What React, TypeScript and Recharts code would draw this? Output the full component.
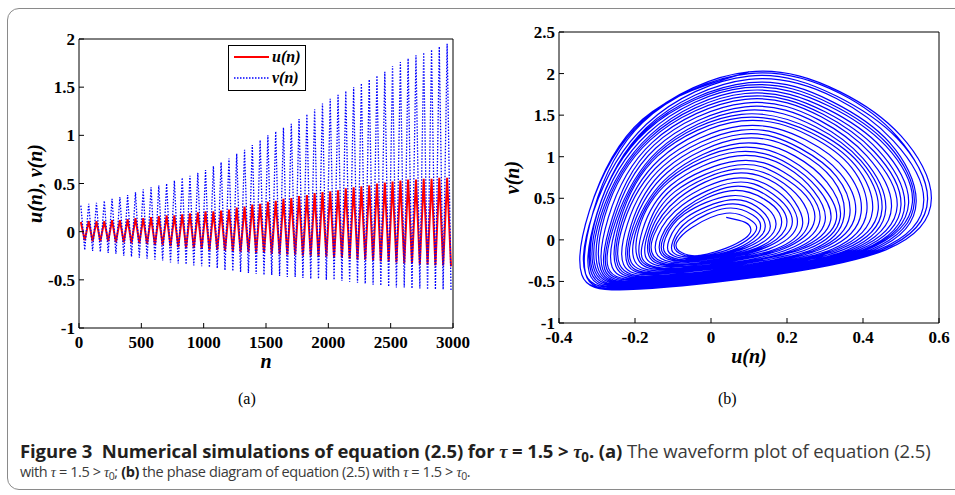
import React from "react";
import { LineChart, Line, XAxis, YAxis, Label, Legend } from "recharts";

// (a) waveform: one peak and one trough read per oscillation cycle
const cycleN = [
  15, 78, 140, 203, 265, 328, 390, 453, 515, 578, 640, 703, 765, 828, 890, 953,
  1015, 1078, 1140, 1203, 1265, 1328, 1390, 1453, 1515, 1578, 1640, 1703, 1765, 1828, 1890, 1953,
  2015, 2078, 2140, 2203, 2265, 2328, 2390, 2453, 2515, 2578, 2640, 2703, 2765, 2828, 2890, 2953,
];
const halfCycle = 31;
const uPeak = [
  0.1, 0.11, 0.11, 0.11, 0.12, 0.12, 0.13, 0.14, 0.14, 0.15, 0.16, 0.17, 0.17, 0.18, 0.19, 0.2,
  0.21, 0.21, 0.22, 0.23, 0.25, 0.26, 0.28, 0.29, 0.31, 0.32, 0.34, 0.35, 0.37, 0.38, 0.4, 0.41,
  0.42, 0.43, 0.45, 0.46, 0.47, 0.48, 0.5, 0.51, 0.52, 0.53, 0.54, 0.54, 0.55, 0.55, 0.56, 0.56,
];
const uTrough = [
  -0.09, -0.1, -0.1, -0.1, -0.11, -0.11, -0.12, -0.12, -0.13, -0.14, -0.14, -0.15, -0.16, -0.17, -0.17, -0.18,
  -0.19, -0.19, -0.2, -0.2, -0.21, -0.21, -0.22, -0.22, -0.23, -0.23, -0.24, -0.24, -0.25, -0.25, -0.26, -0.26,
  -0.27, -0.27, -0.28, -0.29, -0.29, -0.3, -0.31, -0.31, -0.32, -0.33, -0.33, -0.34, -0.34, -0.35, -0.35, -0.36,
];
const vPeak = [
  0.27, 0.29, 0.3, 0.32, 0.34, 0.36, 0.38, 0.41, 0.44, 0.46, 0.48, 0.5, 0.53, 0.56, 0.58, 0.61,
  0.64, 0.68, 0.72, 0.76, 0.81, 0.85, 0.9, 0.95, 1.0, 1.04, 1.08, 1.12, 1.17, 1.22, 1.27, 1.33,
  1.38, 1.42, 1.46, 1.5, 1.54, 1.58, 1.62, 1.66, 1.72, 1.76, 1.8, 1.83, 1.86, 1.89, 1.92, 1.95,
];
const vTrough = [
  -0.19, -0.2, -0.21, -0.22, -0.23, -0.25, -0.26, -0.27, -0.28, -0.29, -0.3, -0.32, -0.33, -0.34, -0.35, -0.36,
  -0.37, -0.38, -0.4, -0.41, -0.42, -0.43, -0.44, -0.45, -0.45, -0.46, -0.47, -0.47, -0.48, -0.49, -0.49, -0.5,
  -0.5, -0.51, -0.52, -0.53, -0.54, -0.55, -0.56, -0.57, -0.58, -0.58, -0.59, -0.59, -0.6, -0.6, -0.6, -0.61,
];
const waveTicksX = [0, 500, 1000, 1500, 2000, 2500, 3000];
const waveTicksY = [-1, -0.5, 0, 0.5, 1, 1.5, 2];

// (b) phase diagram: ten points per turn, turns listed from the hole outwards
const topU = [0.04, 0.04, 0.04, 0.045, 0.05, 0.05, 0.05, 0.055, 0.06, 0.06, 0.06, 0.065, 0.07, 0.07, 0.07, 0.07, 0.07, 0.075, 0.08, 0.08, 0.08, 0.08, 0.08,
  0.08, 0.08, 0.085, 0.09, 0.09, 0.09, 0.09, 0.09, 0.09, 0.09, 0.095, 0.1, 0.1, 0.1, 0.1, 0.1];
const topV = [0.27, 0.32, 0.38, 0.43, 0.48, 0.53, 0.59, 0.64, 0.69, 0.74, 0.8, 0.85, 0.9, 0.95, 1.01, 1.06, 1.11, 1.16, 1.22, 1.27, 1.32, 1.37, 1.43,
  1.47, 1.51, 1.555, 1.6, 1.645, 1.69, 1.725, 1.76, 1.795, 1.83, 1.86, 1.89, 1.93, 1.97, 2.0, 2.02];
const upperRightU = [0.09, 0.1, 0.11, 0.115, 0.12, 0.13, 0.14, 0.145, 0.15, 0.16, 0.17, 0.175, 0.18, 0.19, 0.2, 0.205, 0.21, 0.22, 0.23, 0.235, 0.24, 0.25, 0.26,
  0.265, 0.27, 0.275, 0.28, 0.285, 0.29, 0.295, 0.3, 0.305, 0.31, 0.315, 0.32, 0.33, 0.33, 0.34, 0.34];
const upperRightV = [0.21, 0.25, 0.3, 0.35, 0.4, 0.44, 0.49, 0.54, 0.59, 0.63, 0.68, 0.73, 0.78, 0.82, 0.87, 0.91, 0.96, 1.01, 1.06, 1.1, 1.15, 1.2, 1.25,
  1.285, 1.32, 1.36, 1.4, 1.44, 1.48, 1.51, 1.54, 1.575, 1.61, 1.635, 1.66, 1.7, 1.73, 1.76, 1.78];
const rightUpperU = [0.105, 0.12, 0.13, 0.14, 0.15, 0.165, 0.18, 0.19, 0.2, 0.21, 0.22, 0.235, 0.25, 0.26, 0.27, 0.28, 0.29, 0.305, 0.32, 0.33, 0.34, 0.355, 0.37,
  0.38, 0.39, 0.395, 0.4, 0.41, 0.42, 0.43, 0.44, 0.45, 0.46, 0.465, 0.47, 0.48, 0.49, 0.49, 0.5];
const rightUpperV = [0.12, 0.155, 0.19, 0.225, 0.26, 0.29, 0.32, 0.355, 0.39, 0.425, 0.46, 0.495, 0.53, 0.56, 0.59, 0.625, 0.66, 0.695, 0.73, 0.765, 0.8, 0.835, 0.87,
  0.895, 0.92, 0.95, 0.98, 1.01, 1.04, 1.06, 1.08, 1.105, 1.13, 1.15, 1.17, 1.19, 1.22, 1.24, 1.25];
const rightU = [0.09, 0.105, 0.12, 0.135, 0.15, 0.165, 0.18, 0.195, 0.21, 0.225, 0.24, 0.255, 0.27, 0.285, 0.3, 0.315, 0.33, 0.34, 0.35, 0.365, 0.38, 0.395, 0.41,
  0.425, 0.44, 0.45, 0.46, 0.475, 0.49, 0.5, 0.51, 0.52, 0.53, 0.535, 0.54, 0.56, 0.57, 0.57, 0.58];
const rightV = [0.02, 0.035, 0.05, 0.065, 0.08, 0.095, 0.11, 0.125, 0.14, 0.15, 0.16, 0.175, 0.19, 0.205, 0.22, 0.235, 0.25, 0.265, 0.28, 0.295, 0.31, 0.325, 0.34,
  0.35, 0.36, 0.37, 0.38, 0.395, 0.41, 0.42, 0.43, 0.44, 0.45, 0.455, 0.46, 0.48, 0.49, 0.49, 0.5];
const lowerRightU = [0.04, 0.055, 0.07, 0.08, 0.09, 0.105, 0.12, 0.13, 0.14, 0.155, 0.17, 0.18, 0.19, 0.205, 0.22, 0.23, 0.24, 0.255, 0.27, 0.28, 0.29, 0.305, 0.32,
  0.33, 0.34, 0.35, 0.36, 0.37, 0.38, 0.39, 0.4, 0.405, 0.41, 0.42, 0.43, 0.44, 0.45, 0.45, 0.46];
const lowerRightV = [-0.1, -0.1, -0.1, -0.1, -0.1, -0.1, -0.1, -0.1, -0.1, -0.105, -0.11, -0.11, -0.11, -0.11, -0.11, -0.11, -0.11, -0.11, -0.11, -0.11, -0.11, -0.11, -0.11,
  -0.11, -0.11, -0.115, -0.12, -0.12, -0.12, -0.12, -0.12, -0.12, -0.12, -0.12, -0.12, -0.12, -0.12, -0.12, -0.12];
const bottomRightU = [-0.01, -0.005, 0.0, 0.005, 0.01, 0.01, 0.01, 0.015, 0.02, 0.025, 0.03, 0.035, 0.04, 0.045, 0.05, 0.05, 0.05, 0.055, 0.06, 0.065, 0.07, 0.075, 0.08,
  0.08, 0.08, 0.085, 0.09, 0.095, 0.1, 0.1, 0.1, 0.105, 0.11, 0.11, 0.11, 0.11, 0.12, 0.12, 0.12];
const bottomRightV = [-0.17, -0.18, -0.19, -0.195, -0.2, -0.21, -0.22, -0.23, -0.24, -0.245, -0.25, -0.26, -0.27, -0.28, -0.29, -0.295, -0.3, -0.31, -0.32, -0.33, -0.34, -0.345, -0.35,
  -0.36, -0.37, -0.375, -0.38, -0.39, -0.4, -0.405, -0.41, -0.415, -0.42, -0.425, -0.43, -0.44, -0.44, -0.45, -0.45];
const bottomU = [-0.05, -0.055, -0.06, -0.065, -0.07, -0.075, -0.08, -0.085, -0.09, -0.095, -0.1, -0.105, -0.11, -0.115, -0.12, -0.125, -0.13, -0.135, -0.14, -0.145, -0.15, -0.155, -0.16,
  -0.165, -0.17, -0.175, -0.18, -0.185, -0.19, -0.19, -0.19, -0.195, -0.2, -0.205, -0.21, -0.21, -0.22, -0.22, -0.22];
const bottomV = [-0.19, -0.2, -0.21, -0.225, -0.24, -0.25, -0.26, -0.275, -0.29, -0.3, -0.31, -0.325, -0.34, -0.35, -0.36, -0.375, -0.39, -0.4, -0.41, -0.425, -0.44, -0.45, -0.46,
  -0.47, -0.48, -0.49, -0.5, -0.51, -0.52, -0.53, -0.54, -0.545, -0.55, -0.56, -0.57, -0.58, -0.59, -0.59, -0.6];
const lowerLeftU = [-0.085, -0.09, -0.1, -0.11, -0.12, -0.125, -0.13, -0.14, -0.15, -0.155, -0.16, -0.17, -0.18, -0.185, -0.19, -0.2, -0.21, -0.215, -0.22, -0.23, -0.24, -0.245, -0.25,
  -0.26, -0.27, -0.275, -0.28, -0.285, -0.29, -0.295, -0.3, -0.305, -0.31, -0.315, -0.32, -0.33, -0.33, -0.34, -0.34];
const lowerLeftV = [-0.13, -0.14, -0.15, -0.155, -0.16, -0.17, -0.18, -0.19, -0.2, -0.21, -0.22, -0.225, -0.23, -0.24, -0.25, -0.26, -0.27, -0.28, -0.29, -0.295, -0.3, -0.31, -0.32,
  -0.33, -0.34, -0.345, -0.35, -0.355, -0.36, -0.37, -0.38, -0.385, -0.39, -0.395, -0.4, -0.41, -0.41, -0.42, -0.42];
const leftU = [-0.09, -0.095, -0.1, -0.11, -0.12, -0.125, -0.13, -0.14, -0.15, -0.155, -0.16, -0.165, -0.17, -0.18, -0.19, -0.195, -0.2, -0.205, -0.21, -0.22, -0.23, -0.235, -0.24,
  -0.245, -0.25, -0.255, -0.26, -0.27, -0.28, -0.285, -0.29, -0.295, -0.3, -0.3, -0.3, -0.31, -0.31, -0.32, -0.32];
const leftV = [-0.03, -0.02, -0.01, 0.005, 0.02, 0.03, 0.04, 0.05, 0.06, 0.07, 0.08, 0.095, 0.11, 0.12, 0.13, 0.14, 0.15, 0.165, 0.18, 0.19, 0.2, 0.21, 0.22,
  0.23, 0.24, 0.25, 0.26, 0.27, 0.28, 0.285, 0.29, 0.3, 0.31, 0.315, 0.32, 0.33, 0.34, 0.35, 0.35];
const upperLeftU = [-0.05, -0.055, -0.06, -0.065, -0.07, -0.07, -0.07, -0.075, -0.08, -0.085, -0.09, -0.095, -0.1, -0.105, -0.11, -0.11, -0.11, -0.115, -0.12, -0.125, -0.13, -0.135, -0.14,
  -0.14, -0.14, -0.145, -0.15, -0.155, -0.16, -0.16, -0.16, -0.165, -0.17, -0.17, -0.17, -0.17, -0.18, -0.18, -0.18];
const upperLeftV = [0.15, 0.19, 0.23, 0.27, 0.31, 0.345, 0.38, 0.42, 0.46, 0.5, 0.54, 0.58, 0.62, 0.66, 0.7, 0.735, 0.77, 0.81, 0.85, 0.89, 0.93, 0.97, 1.01,
  1.04, 1.07, 1.105, 1.14, 1.17, 1.2, 1.23, 1.26, 1.285, 1.31, 1.33, 1.35, 1.39, 1.41, 1.43, 1.45];
const phaseTicksX = [-0.4, -0.2, 0, 0.2, 0.4, 0.6];
const phaseTicksY = [-1, -0.5, 0, 0.5, 1, 1.5, 2, 2.5];

const waveData: { n: number; u: number; v: number }[] = [];
cycleN.forEach((n, i) => {
  waveData.push({ n, u: uPeak[i], v: vPeak[i] });
  waveData.push({ n: n + halfCycle, u: uTrough[i], v: vTrough[i] });
});

const turnU = [topU, upperRightU, rightUpperU, rightU, lowerRightU, bottomRightU, bottomU, lowerLeftU, leftU, upperLeftU];
const turnV = [topV, upperRightV, rightUpperV, rightV, lowerRightV, bottomRightV, bottomV, lowerLeftV, leftV, upperLeftV];
const phaseData: { u: number; v: number }[] = [];
for (let k = 0; k < topU.length; k++) {
  for (let a = 0; a < turnU.length; a++) phaseData.push({ u: turnU[a][k], v: turnV[a][k] });
}
phaseData.push({ u: topU[topU.length - 1], v: topV[topV.length - 1] });

const serif = '"Liberation Serif", "Times New Roman", serif';
const tickStyle = { fontFamily: serif, fontWeight: 700, fontSize: 17, fill: "#000" };
const axisLabel = { fontFamily: serif, fontWeight: 700, fontStyle: "italic", fontSize: 20, fill: "#000" };
const BLUE = "#0000ff";
const RED = "#ff0000";
const frameAxis = { axisLine: { stroke: "#000" }, tickLine: { stroke: "#000" }, tick: false as const, tickSize: -5 };

const legendStyles: Record<string, { color: string; dash?: string; width: number }> = {
  u: { color: RED, width: 2 },
  v: { color: BLUE, dash: "1.5 1.5", width: 1.3 },
};

function WaveLegend(props: any) {
  const items = props.payload || [];
  return (
    <div style={{ border: "1px solid #000", background: "#fff", width: 76, height: 44 }}>
      <svg width={76} height={44}>
        {items.map((it: any, i: number) => {
          const s = legendStyles[it.dataKey] || legendStyles.u;
          const y = 11 + i * 21;
          return (
            <g key={it.dataKey}>
              <line x1={5} x2={40} y1={y} y2={y} stroke={s.color} strokeWidth={s.width} strokeDasharray={s.dash} />
              <text x={43} y={y + 5} fontFamily={serif} fontWeight={700} fontStyle="italic" fontSize={16}>
                {it.value}
              </text>
            </g>
          );
        })}
      </svg>
    </div>
  );
}

function WaveformChart() {
  return (
    <LineChart width={470} height={380} data={waveData} margin={{ top: 38, right: 16, bottom: 12, left: 19 }}>
      <XAxis dataKey="n" type="number" domain={[0, 3000]} ticks={waveTicksX} height={40} tick={tickStyle}
        tickSize={-5} tickMargin={13} axisLine={{ stroke: "#000" }} tickLine={{ stroke: "#000" }}>
        <Label value="n" position="insideBottom" offset={0} {...axisLabel} />
      </XAxis>
      <XAxis xAxisId="top" orientation="top" dataKey="n" type="number" domain={[0, 3000]} ticks={waveTicksX} height={1} {...frameAxis} />
      <YAxis type="number" domain={[-1, 2]} ticks={waveTicksY} width={60} tick={tickStyle} tickSize={-5} tickMargin={9}
        axisLine={{ stroke: "#000" }} tickLine={{ stroke: "#000" }}>
        <Label value="u(n), v(n)" angle={-90} position="insideLeft" offset={16} style={{ textAnchor: "middle" }} {...axisLabel} />
      </YAxis>
      <YAxis yAxisId="right" orientation="right" type="number" domain={[-1, 2]} ticks={waveTicksY} width={1} {...frameAxis} />
      <Legend layout="horizontal" verticalAlign="middle" content={<WaveLegend />}
        wrapperStyle={{ left: 228, top: 45, width: 78, height: 46 }} />
      <Line dataKey="u" name="u(n)" type="linear" stroke={RED} strokeWidth={2} dot={false} isAnimationActive={false} />
      <Line dataKey="v" name="v(n)" type="linear" stroke={BLUE} strokeWidth={1.3} strokeDasharray="1.5 1.5" dot={false} isAnimationActive={false} />
    </LineChart>
  );
}

function PhaseChart() {
  return (
    <LineChart width={485} height={380} data={phaseData} margin={{ top: 31, right: 15, bottom: 17, left: 29 }}>
      <XAxis dataKey="u" type="number" domain={[-0.4, 0.6]} ticks={phaseTicksX} height={40} tick={tickStyle}
        tickSize={-5} tickMargin={13} axisLine={{ stroke: "#000" }} tickLine={{ stroke: "#000" }} allowDataOverflow>
        <Label value="u(n)" position="insideBottom" offset={0} {...axisLabel} />
      </XAxis>
      <XAxis xAxisId="top" orientation="top" dataKey="u" type="number" domain={[-0.4, 0.6]} ticks={phaseTicksX} height={1} {...frameAxis} />
      <YAxis type="number" domain={[-1, 2.5]} ticks={phaseTicksY} width={60} tick={tickStyle} tickSize={-5} tickMargin={9}
        axisLine={{ stroke: "#000" }} tickLine={{ stroke: "#000" }} allowDataOverflow>
        <Label value="v(n)" angle={-90} position="insideLeft" offset={13} style={{ textAnchor: "middle" }} {...axisLabel} />
      </YAxis>
      <YAxis yAxisId="right" orientation="right" type="number" domain={[-1, 2.5]} ticks={phaseTicksY} width={1} {...frameAxis} />
      <Line dataKey="v" type="natural" stroke={BLUE} strokeWidth={1.2} dot={false} isAnimationActive={false} />
    </LineChart>
  );
}

const tau = <i style={{ fontFamily: serif }}>τ</i>;
const sub0 = <span style={{ fontSize: "0.72em", position: "relative", top: "0.3em" }}>0</span>;
const captionFont = '"Open Sans", sans-serif';

export default function App() {
  return (
    <div style={{ position: "absolute", left: 0, top: 0, width: 955, height: 495, overflow: "hidden", background: "#fff" }}>
      <div style={{ position: "absolute", left: 7, top: 8, width: 990, height: 480, border: "1.5px solid #8a8a8a", borderRadius: 12 }} />
      <div style={{ position: "absolute", left: 0, top: 0 }}>
        <WaveformChart />
      </div>
      <div style={{ position: "absolute", left: 470, top: 0 }}>
        <PhaseChart />
      </div>
      <div style={{ position: "absolute", left: 238, top: 390, fontFamily: serif, fontSize: 16 }}>(a)</div>
      <div style={{ position: "absolute", left: 718, top: 390, fontFamily: serif, fontSize: 16 }}>(b)</div>
      <div style={{ position: "absolute", left: 20, top: 440, fontFamily: captionFont, fontSize: 18.5, lineHeight: "22px",
        color: "#231f20", whiteSpace: "nowrap", letterSpacing: -0.1 }}>
        <b>Figure 3&nbsp; Numerical simulations of equation (2.5) for {tau} = 1.5 &gt; {tau}{sub0}. (a)</b>{" "}
        <span style={{ color: "#3a3a3a" }}>The waveform plot of equation (2.5)</span>
      </div>
      <div style={{ position: "absolute", left: 20, top: 462, fontFamily: captionFont, fontSize: 14.5, lineHeight: "19px",
        color: "#3a3a3a", whiteSpace: "nowrap", letterSpacing: -0.4 }}>
        with {tau} = 1.5 &gt; {tau}{sub0}; <b style={{ color: "#231f20" }}>(b)</b> the phase diagram of equation (2.5) with {tau} = 1.5 &gt; {tau}{sub0}.
      </div>
    </div>
  );
}
